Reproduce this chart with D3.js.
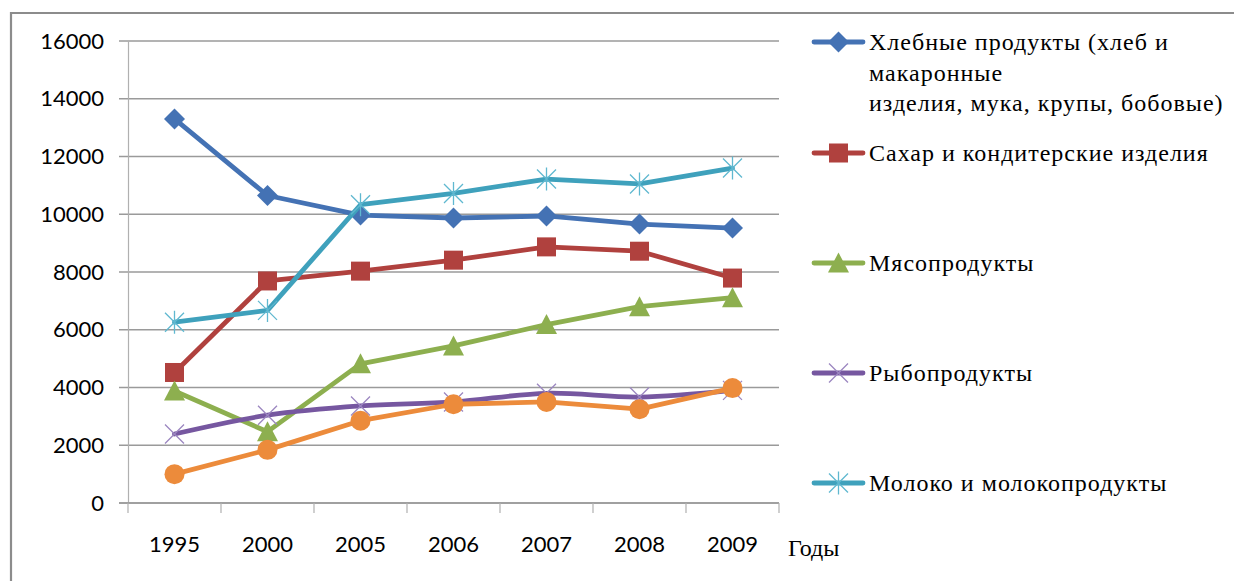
<!DOCTYPE html>
<html><head><meta charset="utf-8">
<script src="https://cdn.jsdelivr.net/npm/d3@7"></script>
<style>body{margin:0;background:#fff}svg{display:block}</style>
</head><body>
<svg id="chart" width="1234" height="581"></svg>
<script>
const years = ["1995","2000","2005","2006","2007","2008","2009"];
const yTicks = [0,2000,4000,6000,8000,10000,12000,14000,16000];
const bread  = [13300,10650,9970,9870,9940,9660,9520];
const sugar  = [4520,7690,8030,8410,8870,8720,7790];
const meat   = [3880,2470,4820,5440,6180,6800,7110];
const fish   = [2390,3040,3360,3500,3800,3670,3900];
const milk   = [6260,6670,10330,10720,11220,11050,11600];
const other  = [1000,1840,2850,3420,3500,3250,3980];
const legendLabels = [
  ["Хлебные продукты (хлеб и","макаронные","изделия, мука, крупы, бобовые)"],
  ["Сахар и кондитерские изделия"],
  ["Мясопродукты"],
  ["Рыбопродукты"],
  ["Молоко и молокопродукты"]
];
const xTitle = "Годы";

const series = [
  {vals: bread, color:"#4472B4", marker:"diamond", legend:0},
  {vals: sugar, color:"#B0413E", marker:"square", legend:1},
  {vals: meat,  color:"#8DAF4F", marker:"triangle", legend:2},
  {vals: fish,  color:"#7657A0", marker:"x", markColor:"#9B86C0", legend:3, smooth:true},
  {vals: milk,  color:"#3FA1BC", marker:"star", markColor:"#5FB8D0", legend:4},
  {vals: other, color:"#EC8B3B", marker:"circle", legend:null}
];

const svg = d3.select("#chart");
svg.append("path").attr("d","M11,590 V13 H1240").attr("fill","none").attr("stroke","#8c8c8c").attr("stroke-width",2.2);

const x = d3.scaleBand().domain(years).range([128,779]);
const y = d3.scaleLinear().domain([0,16000]).range([503,41]);

svg.append("g").selectAll("line").data(yTicks).join("line")
  .attr("x1",119).attr("x2",779)
  .attr("y1",d=>y(d)).attr("y2",d=>y(d))
  .attr("stroke","#9a9a9a").attr("stroke-width",1.3);

const ya = svg.append("g").attr("transform","translate(128,0)")
  .call(d3.axisLeft(y).tickValues(yTicks).tickSize(0).tickPadding(24).tickFormat(d3.format("d")));
ya.select(".domain").attr("stroke","#b0b0b0").attr("stroke-width",1.2);
ya.selectAll("text").attr("font-family","Lato, 'Open Sans', sans-serif").attr("font-size",22).attr("fill","#000");

const xa = svg.append("g").attr("transform","translate(0,503)")
  .call(d3.axisBottom(x).tickSize(0).tickPadding(33));
xa.select(".domain").remove();
xa.selectAll("text").attr("font-family","Lato, 'Open Sans', sans-serif").attr("font-size",22).attr("fill","#000");
svg.append("line").attr("x1",119).attr("x2",779).attr("y1",503).attr("y2",503).attr("stroke","#9a9a9a").attr("stroke-width",1.3);
const bounds = years.map(d=>x(d)).concat([x(years[years.length-1])+x.bandwidth()]);
svg.append("g").selectAll("line").data(bounds).join("line")
  .attr("x1",d=>d).attr("x2",d=>d).attr("y1",503).attr("y2",513)
  .attr("stroke","#b0b0b0").attr("stroke-width",1.2);
svg.append("text").attr("x",788).attr("y",556).text(xTitle)
  .attr("font-family","'Liberation Serif', 'Times New Roman', serif").attr("font-size",24).attr("fill","#000");

function drawMarker(g, type, cx, cy, color, mcolor){
  const s = 9.5;
  if(type==="diamond"){
    g.append("path").attr("d",`M${cx},${cy-s-1}L${cx+s+1},${cy}L${cx},${cy+s+1}L${cx-s-1},${cy}Z`).attr("fill",color);
  } else if(type==="square"){
    g.append("rect").attr("x",cx-s).attr("y",cy-s).attr("width",2*s).attr("height",2*s).attr("fill",color);
  } else if(type==="triangle"){
    g.append("path").attr("d",`M${cx},${cy-s-1}L${cx+s+1},${cy+s}L${cx-s-1},${cy+s}Z`).attr("fill",color);
  } else if(type==="circle"){
    g.append("circle").attr("cx",cx).attr("cy",cy).attr("r",s+0.5).attr("fill",color);
  } else if(type==="x"){
    g.append("path").attr("d",`M${cx-s},${cy-s}L${cx+s},${cy+s}M${cx-s},${cy+s}L${cx+s},${cy-s}`).attr("stroke",mcolor).attr("stroke-width",1.3);
  } else if(type==="star"){
    g.append("path").attr("d",`M${cx-s},${cy-s}L${cx+s},${cy+s}M${cx-s},${cy+s}L${cx+s},${cy-s}M${cx},${cy-s-2}L${cx},${cy+s+2}`).attr("stroke",mcolor).attr("stroke-width",1.3);
  }
}

const plot = svg.append("g");
series.forEach(s=>{
  const g = plot.append("g");
  const line = d3.line().x((d,i)=>x(years[i])+x.bandwidth()/2).y(d=>y(d))
    .curve(s.smooth ? d3.curveCatmullRom.alpha(0.5) : d3.curveLinear);
  g.append("path").datum(s.vals).attr("d",line).attr("fill","none")
    .attr("stroke",s.color).attr("stroke-width",4.8).attr("stroke-linejoin","round").attr("stroke-linecap","round");
  s.vals.forEach((v,i)=>drawMarker(g, s.marker, x(years[i])+x.bandwidth()/2, y(v), s.color, s.markColor));
});

const legendY = [42,153,263,373,483];
const lg = svg.append("g");
series.filter(s=>s.legend!==null).forEach(s=>{
  const ly = legendY[s.legend];
  const g = lg.append("g");
  g.append("line").attr("x1",814).attr("x2",863).attr("y1",ly).attr("y2",ly).attr("stroke",s.color).attr("stroke-width",4.8).attr("stroke-linecap","round");
  drawMarker(g, s.marker, 838.5, ly, s.color, s.markColor);
  legendLabels[s.legend].forEach((t,j)=>{
    g.append("text").attr("x",869).attr("y",ly+8+j*30.5).text(t)
      .attr("font-family","'Liberation Serif', 'Times New Roman', serif").attr("font-size",24)
      .attr("letter-spacing",1).attr("fill","#000");
  });
});
</script>
</body></html>
